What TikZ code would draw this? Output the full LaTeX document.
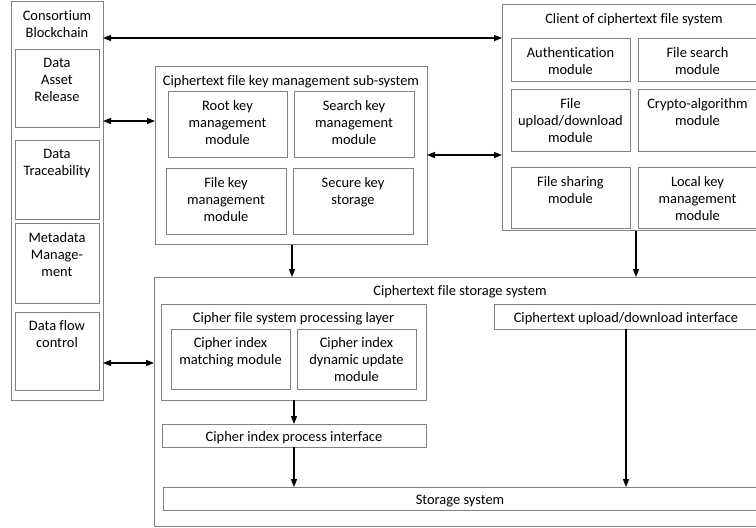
\documentclass[tikz,border=0pt]{standalone}
\usepackage{fontspec}
\setmainfont{Carlito}[Ligatures=CommonOff]
\usetikzlibrary{arrows.meta}
\definecolor{frame}{RGB}{128,128,128}
\tikzset{
  frm/.style={draw=frame, line width=1bp, inner sep=0pt, outer sep=0pt, anchor=north west},
  lbl/.style={align=center, inner sep=0pt, font=\fontsize{14.5}{17}\selectfont, anchor=north},
  tip/.tip={Triangle[length=8bp,width=6bp]},
  link/.style={draw=black, line width=1.1bp, -tip},
  bilink/.style={draw=black, line width=1.1bp, tip-tip},
}
% box with its caption at the top: name, x1, y1, x2, y2, caption
\newcommand\blk[6]{%
  \node[frm, minimum width={(#4-#2)*1bp}, minimum height={(#5-#3)*1bp}] (#1) at (#2,#3) {};
  \node[lbl] (#1-t) at ([yshift=-8.5bp]#1.north) {#6};
}
% box with its caption centred: name, x1, y1, x2, y2, caption
\newcommand\cblk[6]{%
  \node[frm, minimum width={(#4-#2)*1bp}, minimum height={(#5-#3)*1bp}] (#1) at (#2,#3) {};
  \node[lbl, anchor=center] (#1-t) at ([yshift=-2.5bp]#1.center) {#6};
}
\begin{document}
\begin{tikzpicture}[x=1bp,y=-1bp]
\useasboundingbox (0,0) rectangle (756,528);

% consortium blockchain
\blk{cons}{11}{2}{103}{400}{Consortium\\Blockchain}
\blk{dar}{15}{50}{99}{128}{Data\\Asset\\Release}
\blk{dt}{15}{141}{99}{220}{Data\\Traceability}
\blk{md}{15}{224}{99}{303}{Metadata\\Manage-\\ment}
\blk{dfc}{15}{312}{99}{390}{Data flow\\control}

% key management sub-system
\blk{keym}{155}{67}{427}{245}{Ciphertext file key management sub-system}
\blk{rk}{168}{92}{287}{158}{Root key\\management\\module}
\blk{sk}{294}{92}{414}{158}{Search key\\management\\module}
\blk{fk}{166}{169}{286}{235}{File key\\management\\module}
\blk{sks}{293}{169}{413}{235}{Secure key\\storage}

% client
\blk{client}{502}{5}{766}{231}{Client of ciphertext file system}
\blk{auth}{511}{39}{630}{82}{Authentication\\module}
\blk{fs}{638}{39}{757}{82}{File search\\module}
\blk{fud}{511}{90}{630}{152}{File\\upload/download\\module}
\blk{ca}{638}{90}{757}{152}{Crypto-algorithm\\module}
\blk{fsh}{511}{168}{630}{229}{File sharing\\module}
\blk{lk}{638}{168}{757}{229}{Local key\\management\\module}

% storage system
\blk{stor}{154}{277}{766}{526}{Ciphertext file storage system}
\blk{layer}{161}{304}{426}{400}{Cipher file system processing layer}
\blk{cim}{171}{329}{290}{389}{Cipher index\\matching module}
\blk{cidu}{297}{329}{416}{389}{Cipher index\\dynamic update\\module}
\cblk{pif}{162}{424}{426}{447}{Cipher index process interface}
\cblk{upif}{494}{304}{758}{329}{Ciphertext upload/download interface}
\cblk{ssys}{163}{487}{757}{510}{Storage system}

% connectors
\draw[bilink] (cons.east |- 0,38) -- (client.west |- 0,38);
\draw[bilink] (cons.east |- 0,121) -- (keym.west |- 0,121);
\draw[bilink] (keym.east |- 0,155) -- (client.west |- 0,155);
\draw[bilink] (cons.east |- 0,363) -- (stor.west |- 0,363);
\draw[link] (keym.south -| 292,0) -- (stor.north -| 292,0);
\draw[link] (client.south -| 636,0) -- (stor.north -| 636,0);
\draw[link] (layer.south -| 294,0) -- (pif.north -| 294,0);
\draw[link] (pif.south -| 294,0) -- (ssys.north -| 294,0);
\draw[link] (upif.south -| 626,0) -- (ssys.north -| 626,0);
\end{tikzpicture}
\end{document}
